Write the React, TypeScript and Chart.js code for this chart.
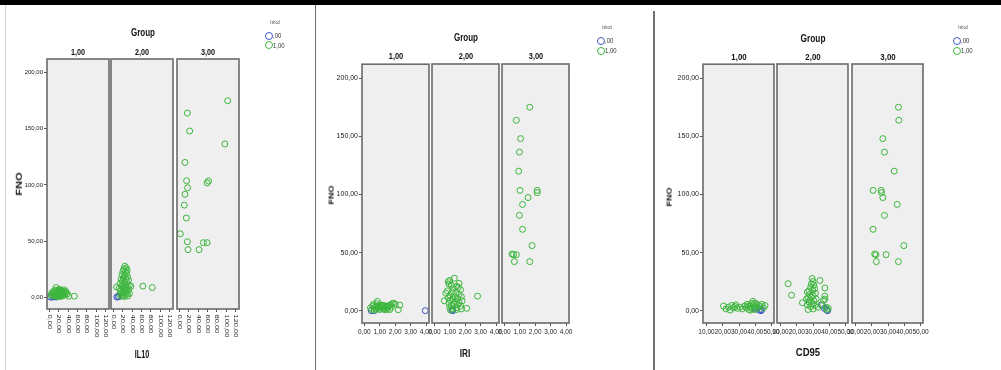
import React, { useEffect, useRef } from 'react';
import { Chart, registerables } from 'chart.js';
Chart.register(...registerables);

type Pt = [number, number];

// ---- shared axis / labels ----
const FNO_TICKS = [0, 50, 100, 150, 200];
const FNO_MIN = -10.6;
const FNO_MAX = 212.2;
const GROUP_LABELS = ['1,00', '2,00', '3,00'];
const LEGEND_TITLE = 'Ishod';
const LEGEND_LABELS = [',00', '1,00'];
const Y_TITLE = 'FNO';
const FACET_TITLE = 'Group';

// ---- IL10 ----
const IL10_TICKS = [0, 20, 40, 60, 80, 100, 120];
const IL10_G1_GREEN: Pt[] = [[3,2],[5,4],[6,1],[8,3],[9,5],[10,2],[11,6],[12,1],[13,4],[14,8.5],[14,3],[15,0.5],[16,5],[17,2],[18,6],[18,3],[19,1],[20,4],[21,7],[21,2],[22,5],[23,0.5],[24,3],[25,6],[26,2],[27,4],[28,1],[29,5],[30,3],[31,6.5],[32,2],[33,4],[35,5],[36,2.5],[38,3],[41,0.8],[53,0.8]];
const IL10_G1_BLUE: Pt[] = [[2,0],[6,0],[10,0.5],[14,0],[18,1]];
const IL10_G2_GREEN: Pt[] = [[24,27.5],[27,26],[22,25],[29,24],[20,23],[25,22.5],[28,21],[18,20],[23,19.5],[30,18],[21,17],[26,16.5],[16,16],[32,15],[19,14],[24,13.5],[28,13],[14,12],[22,11],[34,10.5],[6.5,9],[17,10],[26,9.5],[30,9],[37,9.5],[12,8],[20,7.5],[24,7],[32,6.5],[15,6],[27,5.5],[22,4.5],[18,4],[29,3.5],[34,3],[13,2.5],[25,2],[20,1.5],[30,1],[16,1],[23,0.5],[62.7,9.8],[82.8,8.5]];
const IL10_G2_BLUE: Pt[] = [[7,0],[9.5,0.8],[11,0.3]];
const IL10_G3_GREEN: Pt[] = [[103,175],[16.6,164],[21.6,148],[97,136.5],[11.5,120],[15,103.7],[62,103.5],[59,101.8],[17,97.5],[11.5,91.6],[10,82],[14.5,70.5],[1.5,56.4],[16.6,49.3],[51,48.5],[59,48.5],[18,42.3],[41.7,42.3]];

// ---- IRI ----
const IRI_TICKS = [0, 1, 2, 3, 4];
const IRI_G1_GREEN: Pt[] = [[0.4,2.5],[0.5,1],[0.55,4],[0.6,5.5],[0.7,3],[0.75,1.5],[0.8,6],[0.85,8],[0.9,2],[0.95,4.5],[1.0,3],[1.0,1],[1.05,5],[1.1,2.5],[1.15,4],[1.2,1.5],[1.25,3.5],[1.3,2],[1.35,0.8],[1.4,4],[1.45,2.8],[1.5,1.2],[1.55,3.5],[1.6,4.5],[1.65,1],[1.7,5],[1.75,3],[1.8,6],[1.9,6.5],[2.0,5.5],[2.2,0.8],[2.3,4.8],[0.65,0.5],[1.2,4.8],[0.9,3.8]];
const IRI_G1_BLUE: Pt[] = [[0.45,0],[0.65,0],[3.95,0]];
const IRI_G2_GREEN: Pt[] = [[1.3,28],[1.0,26],[0.9,25],[0.95,23],[1.6,23.5],[1.1,22],[1.45,21],[1.55,20],[1.25,19],[1.7,18],[0.85,17],[1.15,16],[1.4,15.5],[0.75,15],[1.6,14],[1.0,13],[1.3,12],[1.75,12],[0.9,11],[1.5,10.5],[1.2,10],[0.65,8.5],[1.05,9],[1.8,8.5],[1.35,8],[1.6,7],[0.95,6.5],[1.25,6],[1.5,5],[1.1,4.5],[1.7,4],[1.0,3],[1.4,2.5],[1.75,1.5],[2.1,2],[1.2,1.5],[1.45,1],[1.05,0.5],[2.8,12.5]];
const IRI_G2_BLUE: Pt[] = [[1.2,0],[1.15,0.5]];
const IRI_G3_GREEN: Pt[] = [[1.65,175],[0.78,163.8],[1.05,148],[0.98,136.4],[0.93,120],[1.02,103.5],[2.13,103.5],[2.13,101.5],[1.54,97.3],[1.18,91.4],[0.98,82],[1.18,70],[1.8,56],[0.5,48.7],[0.6,48.2],[0.78,48.2],[0.65,42.2],[1.65,42.2]];

// ---- CD95 ----
const CD95_TICKS = [10, 20, 30, 40, 50];
const CD95_G1_GREEN: Pt[] = [[20.5,4],[22,1.5],[23.5,3],[24.5,0.5],[25.5,4.5],[26.5,2.5],[27.5,3.5],[28,5],[29,2],[30.5,3],[32,1.5],[33.5,4],[34.5,2.5],[35,5.5],[36,1],[36.5,3.5],[37.5,6],[38,2],[38.5,8],[39,4.5],[39.5,1],[40,3],[40.5,6],[41,2],[42,4.5],[43,3.5],[44,5.5],[45,2.5],[46,4.5],[37,0.5],[35.5,4],[39.5,6.5]];
const CD95_G1_BLUE: Pt[] = [[40,1.5],[41.5,2.5],[42.5,0.5],[43.5,0],[44,1]];
const CD95_G2_GREEN: Pt[] = [[14.7,23.2],[16.8,13.3],[23.5,6.8],[29.5,27.7],[30,25],[29,23],[30.5,22],[28.5,20],[31,19],[27.5,17],[29.8,17.5],[26.5,16],[28,14],[31.5,15],[30,13],[27,11],[29,11.5],[26,10],[32,10],[28,9],[30.5,8.5],[27.5,7.5],[29.5,6],[26.5,5],[31,4.5],[28.5,3.5],[27,1],[30,1.5],[34.2,26],[37.3,19.5],[37.3,12.5],[37.3,10],[36.5,9],[33,3],[35,5],[38,3],[39.4,2],[38.5,1]];
const CD95_G2_BLUE: Pt[] = [[35.5,4.5],[37,2],[38.5,0.5],[39,0]];
const CD95_G3_GREEN: Pt[] = [[36.4,175],[36.6,163.8],[26.8,148],[27.8,136.4],[33.8,120],[20.8,103.5],[25.8,103.5],[26,101.5],[26.8,97.3],[35.6,91.4],[27.8,82],[20.8,70],[39.7,56],[21.8,48.7],[22.6,48.2],[28.8,48.2],[22.8,42.2],[36.4,42.2]];

const GREEN = '#3cb63c';
const BLUE = '#3f55c6';
const SANS = '"Liberation Sans", Arial, sans-serif';
const TEXT = '#222';

const fmt = (v: number) => v.toFixed(2).replace('.', ',');

interface TextStyle { size: number; sx: number }

interface Fig {
  xTitle: string;
  lefts: number[];
  width: number;
  top: number;
  height: number;
  xMin: number;
  xMax: number;
  xTicks: number[];
  rotate: boolean;
  xh: number;
  yw: number;
  xTickFont: number;
  yTickFont: number;
  groups: { green: Pt[]; blue: Pt[] }[];
  groupTitleY: number;
  facetY: number;
  yTitle: [number, number];
  xTitlePos: [number, number];
  legend: [number, number];
  groupStyle: TextStyle;
  facetStyle: TextStyle;
  yTitleSize: number;
  xTitleStyle: TextStyle;
}

const FIGS: Fig[] = [
  {
    xTitle: 'IL10', lefts: [47, 111, 177], width: 62, top: 56, height: 253,
    xMin: -5.57, xMax: 127.3, xTicks: IL10_TICKS, rotate: true, xh: 40, yw: 40,
    xTickFont: 7.5, yTickFont: 6,
    groups: [
      { green: IL10_G1_GREEN, blue: IL10_G1_BLUE },
      { green: IL10_G2_GREEN, blue: IL10_G2_BLUE },
      { green: IL10_G3_GREEN, blue: [] },
    ],
    groupTitleY: 33, facetY: 51.5, yTitle: [19, 183.5], xTitlePos: [142, 355], legend: [268, 23],
    groupStyle: { size: 10, sx: 0.8 }, facetStyle: { size: 9, sx: 0.8 }, yTitleSize: 11,
    xTitleStyle: { size: 10, sx: 0.72 },
  },
  {
    xTitle: 'IRI', lefts: [362, 432, 502], width: 67, top: 61, height: 262,
    xMin: -0.15, xMax: 4.19, xTicks: IRI_TICKS, rotate: false, xh: 22, yw: 45,
    xTickFont: 6.5, yTickFont: 7,
    groups: [
      { green: IRI_G1_GREEN, blue: IRI_G1_BLUE },
      { green: IRI_G2_GREEN, blue: IRI_G2_BLUE },
      { green: IRI_G3_GREEN, blue: [] },
    ],
    groupTitleY: 38.3, facetY: 56, yTitle: [332, 195], xTitlePos: [465, 354], legend: [600, 28.3],
    groupStyle: { size: 10, sx: 0.8 }, facetStyle: { size: 9, sx: 0.82 }, yTitleSize: 9,
    xTitleStyle: { size: 10, sx: 0.83 },
  },
  {
    xTitle: 'CD95', lefts: [703, 777, 852], width: 71, top: 61, height: 262,
    xMin: 7.85, xMax: 51.5, xTicks: CD95_TICKS, rotate: false, xh: 22, yw: 45,
    xTickFont: 6.5, yTickFont: 7,
    groups: [
      { green: CD95_G1_GREEN, blue: CD95_G1_BLUE },
      { green: CD95_G2_GREEN, blue: CD95_G2_BLUE },
      { green: CD95_G3_GREEN, blue: [] },
    ],
    groupTitleY: 39, facetY: 56.7, yTitle: [670, 197], xTitlePos: [808, 353], legend: [956, 28.3],
    groupStyle: { size: 10, sx: 0.83 }, facetStyle: { size: 9, sx: 0.87 }, yTitleSize: 9,
    xTitleStyle: { size: 10, sx: 0.95 },
  },
];

const PAD_L = 12;
const PAD_R = 12;
const PAD_T = 2;

function Panel({ fig, idx }: { fig: Fig; idx: number }) {
  const ref = useRef<HTMLCanvasElement>(null);
  const hasY = idx === 0;
  const leftExtra = hasY ? fig.yw : PAD_L;
  const cw = leftExtra + fig.width + PAD_R;
  const ch = PAD_T + fig.height + fig.xh;
  const left = fig.lefts[idx] - leftExtra;
  const top = fig.top - PAD_T;

  useEffect(() => {
    const g = fig.groups[idx];
    const boxPlugin = {
      id: 'panelBox',
      beforeDatasetsDraw(chart: any) {
        const { ctx, chartArea: a } = chart;
        ctx.save();
        ctx.fillStyle = '#efefef';
        ctx.fillRect(a.left, a.top, a.right - a.left, a.bottom - a.top);
        ctx.restore();
      },
      afterDatasetsDraw(chart: any) {
        const { ctx, chartArea: a } = chart;
        ctx.save();
        ctx.strokeStyle = '#6a6a6a';
        ctx.lineWidth = 1.6;
        ctx.strokeRect(a.left, a.top, a.right - a.left, a.bottom - a.top);
        ctx.restore();
      },
    };
    const rotPlugin = {
      id: 'rotLabels',
      afterDraw(chart: any) {
        if (!fig.rotate) return;
        const xs = chart.scales.x;
        const ctx = chart.ctx;
        ctx.save();
        ctx.font = `${fig.xTickFont}px ${SANS}`;
        ctx.fillStyle = TEXT;
        ctx.textAlign = 'left';
        ctx.textBaseline = 'middle';
        for (const t of xs.ticks) {
          const px = xs.getPixelForValue(t.value);
          ctx.save();
          ctx.translate(px, xs.top + 5.5);
          ctx.rotate(Math.PI / 2);
          ctx.scale(1, 0.8);
          ctx.fillText(fmt(t.value), 0, 0);
          ctx.restore();
        }
        ctx.restore();
      },
    };
    const mk = (pts: Pt[], color: string) => ({
      data: pts.map(([x, y]) => ({ x, y })),
      borderColor: color,
      backgroundColor: 'rgba(0,0,0,0)',
      pointRadius: 3,
      pointBorderWidth: 1,
      pointStyle: 'circle',
      showLine: false,
    });
    const chart = new Chart(ref.current as HTMLCanvasElement, {
      type: 'scatter',
      data: { datasets: [mk(g.green, GREEN), mk(g.blue, BLUE)] },
      options: {
        animation: false,
        responsive: false,
        devicePixelRatio: 1,
        events: [],
        layout: { padding: { left: hasY ? 0 : PAD_L, right: PAD_R, top: PAD_T, bottom: 0 } },
        plugins: { legend: { display: false }, tooltip: { enabled: false } },
        scales: {
          x: {
            type: 'linear',
            min: fig.xMin,
            max: fig.xMax,
            afterBuildTicks: (s: any) => { s.ticks = fig.xTicks.map((v) => ({ value: v })); },
            afterFit: (s: any) => { s.height = fig.xh; },
            ticks: {
              display: !fig.rotate,
              autoSkip: false,
              maxRotation: 0,
              minRotation: 0,
              padding: 2,
              color: TEXT,
              font: { family: SANS, size: fig.xTickFont },
              callback: (v: any) => fmt(Number(v)),
            },
            grid: { drawOnChartArea: false, drawTicks: true, tickLength: 3, color: '#555', lineWidth: 1 },
            border: { display: false },
          },
          y: {
            type: 'linear',
            display: hasY,
            min: FNO_MIN,
            max: FNO_MAX,
            afterBuildTicks: (s: any) => { s.ticks = FNO_TICKS.map((v) => ({ value: v })); },
            afterFit: (s: any) => { s.width = hasY ? fig.yw : 0; },
            ticks: {
              padding: 1,
              color: TEXT,
              font: { family: SANS, size: fig.yTickFont },
              callback: (v: any) => fmt(Number(v)),
            },
            grid: { drawOnChartArea: false, drawTicks: true, tickLength: 3, color: '#555', lineWidth: 1 },
            border: { display: false },
          },
        },
      },
      plugins: [boxPlugin, rotPlugin],
    } as any);
    return () => chart.destroy();
  }, []);

  return (
    <canvas
      ref={ref}
      width={cw}
      height={ch}
      style={{ position: 'absolute', left, top, width: cw, height: ch }}
    />
  );
}

const label = (x: number, y: number, size: number, transform: string, extra: React.CSSProperties = {}): React.CSSProperties => ({
  position: 'absolute',
  left: x,
  top: y,
  transform: `translate(-50%, -50%) ${transform}`,
  whiteSpace: 'nowrap',
  lineHeight: 1,
  fontFamily: SANS,
  fontWeight: 700,
  fontSize: size,
  color: '#111',
  ...extra,
});

function Figure({ fig }: { fig: Fig }) {
  return (
    <>
      {fig.lefts.map((_, i) => (
        <Panel key={i} fig={fig} idx={i} />
      ))}
      <div style={label((fig.lefts[0] + fig.lefts[2] + fig.width) / 2, fig.groupTitleY, fig.groupStyle.size, `scaleX(${fig.groupStyle.sx})`)}>
        {FACET_TITLE}
      </div>
      {fig.lefts.map((l, i) => (
        <div key={i} style={label(l + fig.width / 2, fig.facetY, fig.facetStyle.size, `scaleX(${fig.facetStyle.sx})`)}>
          {GROUP_LABELS[i]}
        </div>
      ))}
      <div style={label(fig.yTitle[0], fig.yTitle[1], fig.yTitleSize, 'rotate(-90deg) scaleY(0.8)')}>
        {Y_TITLE}
      </div>
      <div style={label(fig.xTitlePos[0], fig.xTitlePos[1], fig.xTitleStyle.size, `scaleX(${fig.xTitleStyle.sx})`)}>
        {fig.xTitle}
      </div>
      <div style={label(fig.legend[0] + 7, fig.legend[1], 4.5, 'scaleX(0.85)', { fontWeight: 400, color: '#444' })}>
        {LEGEND_TITLE}
      </div>
      {LEGEND_LABELS.map((lab, i) => (
        <div
          key={lab}
          style={{
            position: 'absolute',
            left: fig.legend[0] - 3.5,
            top: fig.legend[1] + 8.5 + i * 9.7,
            display: 'flex',
            alignItems: 'center',
            fontFamily: SANS,
            fontSize: 7,
            color: '#333',
            lineHeight: 1,
            whiteSpace: 'nowrap',
          }}
        >
          <span
            style={{
              display: 'inline-block',
              width: 6,
              height: 6,
              borderRadius: '50%',
              border: `1px solid ${i === 0 ? BLUE : GREEN}`,
              marginRight: 0.5,
            }}
          />
          <span style={{ display: 'inline-block', transform: 'scaleX(0.85)', transformOrigin: 'left center' }}>{lab}</span>
        </div>
      ))}
    </>
  );
}

export default function App() {
  return (
    <div
      style={{
        position: 'fixed',
        left: 0,
        top: 0,
        width: 1001,
        height: 370,
        background: '#fff',
        overflow: 'hidden',
      }}
    >
      <div style={{ position: 'absolute', left: 0, top: 0, width: 1001, height: 5, background: '#000' }} />
      <div style={{ position: 'absolute', left: 5, top: 5, width: 1, height: 365, background: '#cfcfcf' }} />
      <div style={{ position: 'absolute', left: 315, top: 5, width: 1, height: 365, background: '#6a6a6a' }} />
      <div style={{ position: 'absolute', left: 653, top: 11, width: 2, height: 359, background: '#707070' }} />
      {FIGS.map((f, i) => (
        <Figure key={i} fig={f} />
      ))}
    </div>
  );
}
